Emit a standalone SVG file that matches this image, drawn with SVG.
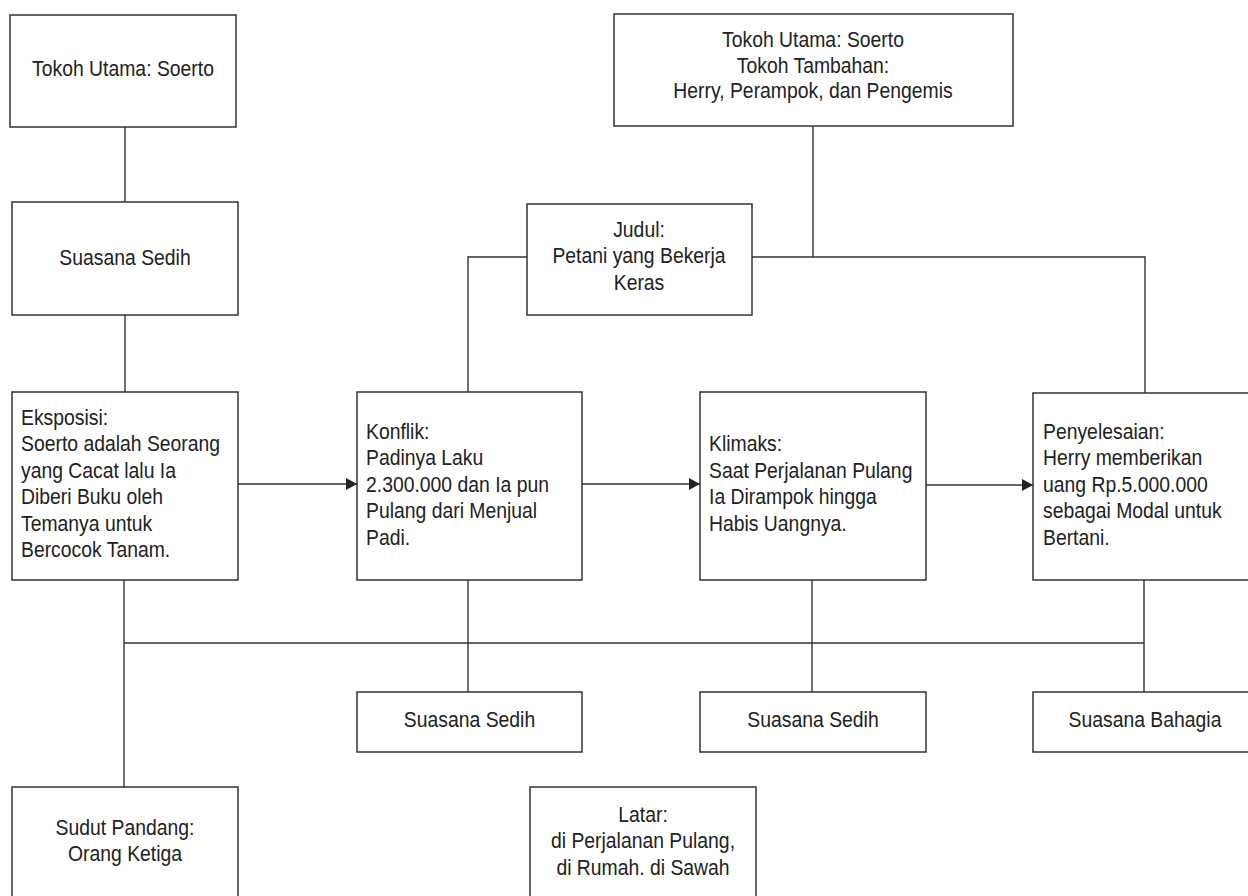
<svg xmlns="http://www.w3.org/2000/svg" width="1248" height="896" viewBox="0 0 1248 896">
<style>
.box{fill:#fff;stroke:#333;stroke-width:1.5}
.ln{fill:none;stroke:#333;stroke-width:1.4}
text{font-family:"Liberation Sans",Arial,sans-serif;font-size:22px;fill:#222}
.c{text-anchor:middle}
</style>
<defs>
<marker id="arr" markerUnits="userSpaceOnUse" markerWidth="12" markerHeight="13" refX="11" refY="6.5" orient="auto">
<path d="M0,0.5 L11,6.5 L0,12.5 Z" fill="#222"/>
</marker>
</defs>
<rect width="1248" height="896" fill="#fff"/>
<g id="connectors">
<line class="ln" x1="125" y1="127" x2="125" y2="202"/>
<line class="ln" x1="125" y1="315" x2="125" y2="392"/>
<line class="ln" x1="813" y1="126" x2="813" y2="257"/>
<polyline class="ln" points="527,257 468,257 468,392"/>
<polyline class="ln" points="752,257 1145,257 1145,393"/>
<line class="ln" x1="236" y1="484" x2="357" y2="484" marker-end="url(#arr)"/>
<line class="ln" x1="582" y1="484" x2="700" y2="484" marker-end="url(#arr)"/>
<line class="ln" x1="926" y1="485" x2="1033" y2="485" marker-end="url(#arr)"/>
<line class="ln" x1="124" y1="580" x2="124" y2="787"/>
<line class="ln" x1="124" y1="643" x2="1144" y2="643"/>
<line class="ln" x1="468" y1="580" x2="468" y2="692"/>
<line class="ln" x1="812" y1="580" x2="812" y2="692"/>
<line class="ln" x1="1144" y1="580" x2="1144" y2="692"/>
</g>
<g id="tokoh1">
<rect class="box" x="10" y="15" width="226" height="112"/>
<g transform="translate(123 0) scale(0.88 1)"><text class="c" x="0" y="76">Tokoh Utama: Soerto</text></g>
</g>
<g id="suasana1">
<rect class="box" x="12" y="202" width="226" height="113"/>
<g transform="translate(125 0) scale(0.88 1)"><text class="c" x="0" y="265">Suasana Sedih</text></g>
</g>
<g id="tokoh2">
<rect class="box" x="614" y="14" width="399" height="112"/>
<g transform="translate(813 0) scale(0.88 1)"><text class="c" x="0" y="47">Tokoh Utama: Soerto</text><text class="c" x="0" y="73">Tokoh Tambahan:</text><text class="c" x="0" y="98">Herry, Perampok, dan Pengemis</text></g>
</g>
<g id="judul">
<rect class="box" x="527" y="204" width="225" height="111"/>
<g transform="translate(639 0) scale(0.88 1)"><text class="c" x="0" y="237">Judul:</text><text class="c" x="0" y="263">Petani yang Bekerja</text><text class="c" x="0" y="290">Keras</text></g>
</g>
<g id="eksposisi">
<rect class="box" x="12" y="392" width="226" height="188"/>
<g transform="translate(21 0) scale(0.88 1)"><text x="0" y="425">Eksposisi:</text><text x="0" y="451.5">Soerto adalah Seorang</text><text x="0" y="478">yang Cacat lalu Ia</text><text x="0" y="504.5">Diberi Buku oleh</text><text x="0" y="531">Temanya untuk</text><text x="0" y="557.5">Bercocok Tanam.</text></g>
</g>
<g id="konflik">
<rect class="box" x="357" y="392" width="225" height="188"/>
<g transform="translate(366 0) scale(0.88 1)"><text x="0" y="439">Konflik:</text><text x="0" y="465.5">Padinya Laku</text><text x="0" y="492">2.300.000 dan Ia pun</text><text x="0" y="518.5">Pulang dari Menjual</text><text x="0" y="545">Padi.</text></g>
</g>
<g id="klimaks">
<rect class="box" x="700" y="392" width="226" height="188"/>
<g transform="translate(709 0) scale(0.88 1)"><text x="0" y="451.5">Klimaks:</text><text x="0" y="478">Saat Perjalanan Pulang</text><text x="0" y="504.5">Ia Dirampok hingga</text><text x="0" y="531">Habis Uangnya.</text></g>
</g>
<g id="penyelesaian">
<rect class="box" x="1033" y="393" width="226" height="187"/>
<g transform="translate(1043 0) scale(0.88 1)"><text x="0" y="439">Penyelesaian:</text><text x="0" y="465.5">Herry memberikan</text><text x="0" y="492">uang Rp.5.000.000</text><text x="0" y="518.5">sebagai Modal untuk</text><text x="0" y="545">Bertani.</text></g>
</g>
<g id="suasana2">
<rect class="box" x="357" y="692" width="225" height="60"/>
<g transform="translate(469.5 0) scale(0.88 1)"><text class="c" x="0" y="727">Suasana Sedih</text></g>
</g>
<g id="suasana3">
<rect class="box" x="700" y="692" width="226" height="60"/>
<g transform="translate(813 0) scale(0.88 1)"><text class="c" x="0" y="727">Suasana Sedih</text></g>
</g>
<g id="suasana4">
<rect class="box" x="1033" y="692" width="226" height="60"/>
<g transform="translate(1145 0) scale(0.88 1)"><text class="c" x="0" y="727">Suasana Bahagia</text></g>
</g>
<g id="sudut">
<rect class="box" x="12" y="787" width="226" height="120"/>
<g transform="translate(125 0) scale(0.88 1)"><text class="c" x="0" y="835">Sudut Pandang:</text><text class="c" x="0" y="861">Orang Ketiga</text></g>
</g>
<g id="latar">
<rect class="box" x="530" y="787" width="226" height="120"/>
<g transform="translate(643 0) scale(0.88 1)"><text class="c" x="0" y="822">Latar:</text><text class="c" x="0" y="848">di Perjalanan Pulang,</text><text class="c" x="0" y="875">di Rumah. di Sawah</text></g>
</g>
</svg>
